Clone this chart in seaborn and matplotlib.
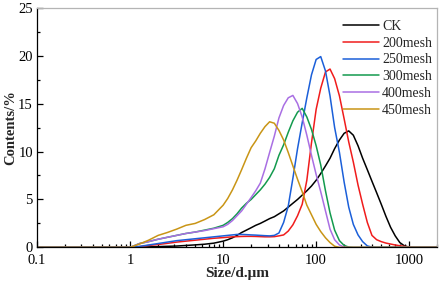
import numpy as np
import pandas as pd
import matplotlib
matplotlib.use("Agg")
import matplotlib.pyplot as plt
import matplotlib.ticker as mticker
import seaborn as sns

# particle size grid (um)
sizes = [0.1,
         1.0, 1.26, 1.58, 2.0, 2.51, 3.16, 3.98, 5.01, 6.31, 7.94,
         10.0, 11.2, 12.6, 14.1, 15.8, 17.8, 20.0, 22.4, 25.1, 28.2,
         31.6, 35.5, 39.8, 44.7, 50.1, 56.2, 63.1, 70.8, 79.4, 89.1,
         100, 112, 126, 141, 158, 178, 200, 224, 251, 282,
         316, 355, 398, 447, 501, 562, 631, 708, 794, 891,
         1000, 1122, 2000]

ck = [0,
      0, 0.02, 0.05, 0.08, 0.11, 0.14, 0.2, 0.26, 0.33, 0.44,
      0.65, 0.8, 1.0, 1.25, 1.55, 1.8, 2.05, 2.3, 2.5, 2.75,
      3.0, 3.2, 3.5, 3.8, 4.2, 4.6, 5.0, 5.45, 5.9, 6.4,
      7.0, 7.7, 8.5, 9.3, 10.3, 11.2, 11.9, 12.15, 11.7, 10.6,
      9.3, 8.1, 6.9, 5.7, 4.5, 3.25, 2.1, 1.2, 0.5, 0.15,
      0.03, 0, 0]

m200 = [0,
        0, 0.08, 0.2, 0.3, 0.42, 0.55, 0.65, 0.75, 0.85, 0.95,
        1.02, 1.06, 1.1, 1.12, 1.14, 1.15, 1.15, 1.14, 1.12, 1.1,
        1.1, 1.12, 1.2, 1.3, 1.7, 2.35, 3.3, 4.5, 7.0, 10.9,
        14.4, 16.6, 18.3, 18.6, 17.6, 15.8, 13.4, 11.0, 8.9, 6.5,
        4.5, 2.6, 1.25, 0.8, 0.6, 0.45, 0.35, 0.25, 0.17, 0.1,
        0.04, 0, 0]

m250 = [0,
        0, 0.1, 0.25, 0.4, 0.55, 0.7, 0.8, 0.9, 1.0, 1.1,
        1.2, 1.25, 1.3, 1.35, 1.35, 1.33, 1.3, 1.28, 1.25, 1.22,
        1.2, 1.25, 1.5, 2.6, 4.3, 7.2, 10.3, 13.0, 15.6, 18.0,
        19.6, 19.9, 18.4, 15.8, 12.5, 9.9, 6.8, 4.2, 2.4, 1.3,
        0.6, 0.15, 0.03, 0, 0, 0, 0, 0, 0, 0,
        0, 0, 0]

m300 = [0,
        0, 0.4, 0.6, 0.85, 1.05, 1.25, 1.45, 1.6, 1.8, 2.0,
        2.3, 2.6, 3.0, 3.5, 4.1, 4.6, 5.0, 5.5, 6.0, 6.6,
        7.3, 8.2, 9.6, 10.7, 12.0, 13.2, 14.1, 14.5, 13.6, 12.3,
        10.6, 8.6, 5.9, 3.6, 1.8, 0.7, 0.2, 0.03, 0, 0,
        0, 0, 0, 0, 0, 0, 0, 0, 0, 0,
        0, 0, 0]

m400 = [0,
        0, 0.4, 0.6, 0.85, 1.05, 1.25, 1.45, 1.6, 1.75, 1.95,
        2.15, 2.4, 2.8, 3.3, 3.8, 4.5, 5.2, 5.9, 6.7, 8.2,
        9.9, 11.6, 13.5, 14.8, 15.6, 15.85, 15.0, 13.6, 11.7, 9.6,
        7.6, 5.8, 3.8, 1.9, 0.8, 0.25, 0.03, 0, 0, 0,
        0, 0, 0, 0, 0, 0, 0, 0, 0, 0,
        0, 0, 0]

m450 = [0,
        0, 0.35, 0.75, 1.25, 1.55, 1.9, 2.3, 2.5, 2.9, 3.4,
        4.4, 5.1, 6.0, 7.0, 8.1, 9.3, 10.4, 11.1, 11.9, 12.6,
        13.1, 12.95, 12.2, 11.2, 9.9, 8.5, 7.1, 5.8, 4.4, 3.4,
        2.4, 1.65, 1.0, 0.5, 0.12, 0, 0, 0, 0, 0,
        0, 0, 0, 0, 0, 0, 0, 0, 0, 0,
        0, 0, 0]

labels = ["CK", "200mesh", "250mesh", "300mesh", "400mesh", "450mesh"]
colors = ["#000000", "#f01c1c", "#1b5fd9", "#139a4e", "#a96fe3", "#c99516"]

series = [ck, m200, m250, m300, m400, m450]
df = pd.concat(
    [pd.DataFrame({"size": sizes, "content": v, "sample": lab})
     for lab, v in zip(labels, series)],
    ignore_index=True)

sns.set_style("ticks")
plt.rcParams["font.family"] = ["Liberation Serif", "DejaVu Serif"]

fig = plt.figure(figsize=(4.47, 2.85), dpi=100)
ax = fig.add_axes([0.083, 0.132, 0.895, 0.841])

sns.lineplot(data=df, x="size", y="content", hue="sample",
             hue_order=labels, palette=colors, sort=False,
             linewidth=1.1, ax=ax)

ax.set_xscale("log")
ax.set_xlim(0.1, 2000)
ax.set_ylim(0, 25)
ax.xaxis.set_major_locator(mticker.FixedLocator([0.1, 1, 10, 100, 1000]))
ax.xaxis.set_major_formatter(mticker.FixedFormatter(["0.1", "1", "10", "100", "1000"]))
ax.xaxis.set_minor_locator(mticker.LogLocator(base=10, subs=np.arange(2, 10)))
ax.xaxis.set_minor_formatter(mticker.NullFormatter())
ax.yaxis.set_major_locator(mticker.MultipleLocator(5))
ax.yaxis.set_minor_locator(mticker.MultipleLocator(2.5))

ax.tick_params(which="both", direction="in", bottom=True, left=True,
               top=False, right=False, color="black", width=0.9,
               labelsize=10.5, labelcolor="black")
ax.tick_params(which="major", length=4)
ax.tick_params(which="minor", length=2.5)
ax.tick_params(axis="x", which="major", pad=5)
ax.tick_params(axis="y", which="major", pad=3)

for side in ["top", "right"]:
    ax.spines[side].set_color("#b4b4b4")
for side in ["left", "bottom"]:
    ax.spines[side].set_color("black")
for s in ax.spines.values():
    s.set_linewidth(0.9)

ax.set_xlabel("Size/d.\u03bcm", fontsize=11, fontweight="bold", labelpad=0)
ax.set_ylabel("Contents/%", fontsize=10.5, fontweight="bold", labelpad=1)

ax.legend(frameon=False, fontsize=10, loc="upper right",
          bbox_to_anchor=(1.008, 0.985), handlelength=2.6, handletextpad=0.2,
          labelspacing=0.28, borderaxespad=0.2)

fig.savefig("out.png", dpi=100)
